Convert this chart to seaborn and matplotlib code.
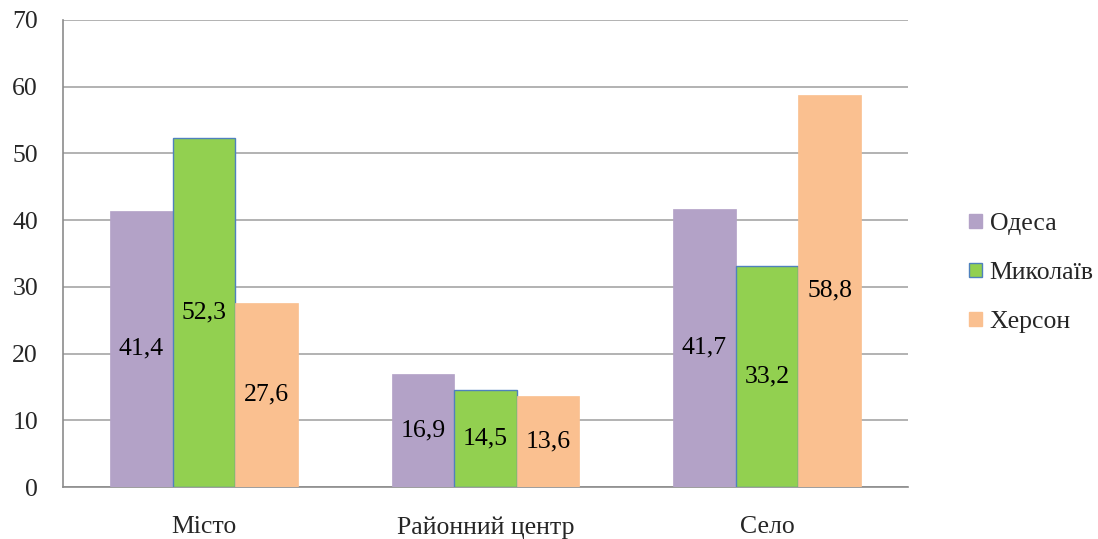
import matplotlib
matplotlib.use("Agg")
import matplotlib.pyplot as plt
import seaborn as sns
import pandas as pd
from matplotlib.patches import Patch

categories = ["Місто", "Районний центр", "Село"]
cities = ["Одеса", "Миколаїв", "Херсон"]
odesa = [41.4, 16.9, 41.7]
mykolaiv = [52.3, 14.5, 33.2]
kherson = [27.6, 13.6, 58.8]
labels = [["41,4", "16,9", "41,7"], ["52,3", "14,5", "33,2"], ["27,6", "13,6", "58,8"]]

colors = ["#B3A2C7", "#92D050", "#FAC090"]
edges = ["#B3A2C7", "#4F81BD", "#FAC090"]

rows = []
for city, vals in zip(cities, [odesa, mykolaiv, kherson]):
    for cat, v in zip(categories, vals):
        rows.append({"cat": cat, "city": city, "value": v})
df = pd.DataFrame(rows)

sns.set_style("white")
plt.rcParams["font.family"] = ["Liberation Serif", "DejaVu Serif"]
FS = 18.5

fig = plt.figure(figsize=(10.98, 5.39), dpi=100)
ax = fig.add_axes([63 / 1098, 1 - 487 / 539, (908 - 63) / 1098, (487 - 20) / 539])

sns.barplot(data=df, x="cat", y="value", hue="city", order=categories,
            hue_order=cities, palette=colors, width=0.667, ax=ax,
            saturation=1, errorbar=None, legend=False, zorder=3)

for i, cont in enumerate(ax.containers):
    for bar, lab in zip(cont, labels[i]):
        bar.set_edgecolor(edges[i])
        bar.set_linewidth(1.0 if i == 1 else 0.5)
        ax.text(bar.get_x() + bar.get_width() / 2, bar.get_height() / 2, lab,
                ha="center", va="center", fontsize=FS, color="black", zorder=4)

ax.set_ylim(0, 70)
ax.set_xlim(-0.5, 2.5)
ax.set_yticks(range(0, 71, 10))
ax.yaxis.grid(True, color="#A6A6A6", linewidth=1.2, zorder=0)
ax.set_axisbelow(True)
ax.set_xlabel("")
ax.set_ylabel("")

ax.set_xticks([-0.5, 0.5, 1.5, 2.5], minor=False)
ax.set_xticklabels([])
ax.set_xticks([0, 1, 2], minor=True)
ax.set_xticklabels(categories, minor=True, fontsize=FS)
ax.tick_params(axis="x", which="minor", length=0, pad=21)
ax.tick_params(axis="x", which="major", length=6, color="#8C8C8C", width=1.2, direction="out")
ax.tick_params(axis="y", length=8, color="#8C8C8C", width=1.2, direction="out",
               labelsize=FS, pad=10)

for side in ["top", "right"]:
    ax.spines[side].set_visible(False)
for side in ["left", "bottom"]:
    ax.spines[side].set_color("#8C8C8C")
    ax.spines[side].set_linewidth(1.2)

handles = [Patch(facecolor=c, edgecolor=e, linewidth=1.0) for c, e in zip(colors, edges)]
fig.legend(handles, cities, loc="center left", bbox_to_anchor=(946 / 1098, 1 - 273 / 539),
           frameon=False, fontsize=FS, handlelength=0.5, handleheight=0.5,
           handletextpad=0.3, labelspacing=1.05)

fig.savefig("out.png", dpi=100)
